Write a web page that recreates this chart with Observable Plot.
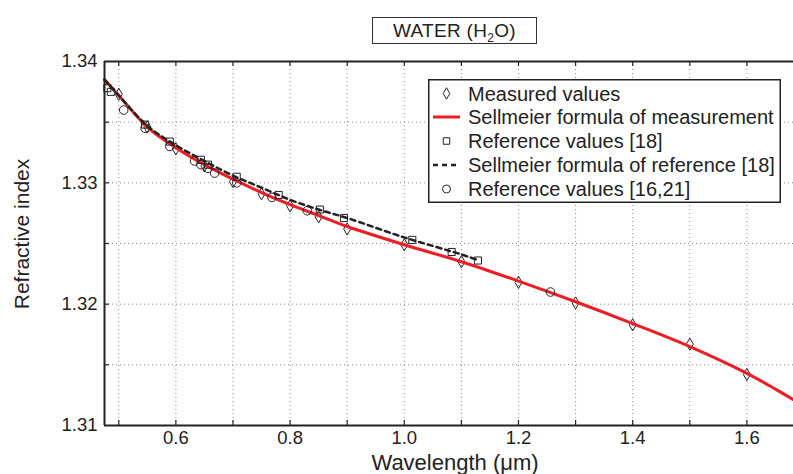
<!DOCTYPE html>
<html><head><meta charset="utf-8">
<script src="https://cdn.jsdelivr.net/npm/d3@7"></script>
<script src="https://cdn.jsdelivr.net/npm/@observablehq/plot@0.6"></script>
<style>
html,body{margin:0;padding:0;background:#fff;overflow:hidden}
#wrap{position:relative;width:793px;height:474px;font-family:"Liberation Sans",Arial,Helvetica,sans-serif;color:#222}
#title{position:absolute;left:372px;top:17px;width:165px;height:27px;border:1px solid #333;box-sizing:border-box;text-align:center;font-size:19px;letter-spacing:0.3px;line-height:25px;background:#fff}
#title .s{font-size:12px;position:relative;top:5px}
#legend{position:absolute;left:428px;top:79px}
</style></head><body>
<div id="wrap"><div id="chart"></div><div id="title">WATER (H<span class="s">2</span>O)</div><div id="legend"></div></div>
<script>
// ---- data ----
const measuredLambda = [0.50,0.55,0.60,0.65,0.70,0.75,0.80,0.85,0.90,1.00,1.10,1.20,1.30,1.40,1.50,1.60];
const measuredIndex  = [1.3373,1.3346,1.3328,1.3314,1.3301,1.3291,1.3281,1.3272,1.3262,1.3249,1.3235,1.3218,1.3201,1.3183,1.3167,1.3142];

const sellLambda = [0.475,0.50,0.55,0.60,0.65,0.70,0.75,0.80,0.85,0.90,1.00,1.10,1.20,1.30,1.40,1.50,1.60,1.65,1.70];
const sellIndex  = [1.3385,1.3372,1.3346,1.3329,1.3315,1.3303,1.3292,1.3282,1.3273,1.3264,1.3249,1.3235,1.3219,1.3202,1.3184,1.3165,1.3143,1.3130,1.3116];

const ref18Lambda = [0.480,0.4861,0.5461,0.5893,0.6438,0.6563,0.7065,0.7800,0.8521,0.8944,1.0140,1.0830,1.1290];
const ref18Index  = [1.3378,1.3375,1.3348,1.3334,1.3319,1.3315,1.3305,1.3290,1.3278,1.3271,1.3253,1.3243,1.3236];

const refSellLambda = [0.475,0.50,0.55,0.60,0.65,0.70,0.75,0.80,0.85,0.90,1.00,1.10,1.125];
const refSellIndex  = [1.3385,1.3372,1.3347,1.3331,1.3318,1.3306,1.3296,1.3286,1.3278,1.3271,1.3255,1.3241,1.3237];

const ref1621Lambda = [0.5086,0.5461,0.5893,0.6328,0.6438,0.6563,0.6678,0.7065,0.7682,0.8300,1.2560];
const ref1621Index  = [1.3360,1.3345,1.3330,1.3318,1.3315,1.3312,1.3308,1.3300,1.3288,1.3277,1.3210];

const xDomain = [0.475, 1.70];
const yDomain = [1.31, 1.34];
const xTickLabels = [0.6, 0.8, 1.0, 1.2, 1.4, 1.6];
const xMinorTicks = [0.5,0.6,0.7,0.8,0.9,1.0,1.1,1.2,1.3,1.4,1.5,1.6];
const yTickLabels = [1.31, 1.32, 1.33, 1.34];
const yMinorTicks = [1.315,1.32,1.325,1.33,1.335];

const xTitle = "Wavelength (\u03bcm)";
const yTitle = "Refractive index";
const legendLabels = ["Measured values","Sellmeier formula of measurement","Reference values [18]","Sellmeier formula of reference [18]","Reference values [16,21]"];

const zip = (xs, ys) => xs.map((x, i) => ({x, y: ys[i]}));
const measured = zip(measuredLambda, measuredIndex);
const sell = zip(sellLambda, sellIndex);
const ref18 = zip(ref18Lambda, ref18Index);
const refSell = zip(refSellLambda, refSellIndex);
const ref1621 = zip(ref1621Lambda, ref1621Index);

const RED = "#ee1c25", INK = "#222";
const font = '"Liberation Sans", Arial, Helvetica, sans-serif';
const grid = {stroke: "#8a8a8a", strokeOpacity: 1, strokeDasharray: "1,3", strokeWidth: 1};
const plotH = 425 - 61, plotW = 793 - 104, tk = 5;

const chart = Plot.plot({
  width: 793, height: 474,
  marginLeft: 104, marginRight: 0, marginTop: 61, marginBottom: 49,
  x: {domain: xDomain, range: [104, 803.5]},
  y: {domain: yDomain, range: [425, 61]},
  style: {fontFamily: font, fontSize: "18px", color: INK, background: "#fff"},
  marks: [
    Plot.gridX({ticks: xMinorTicks, ...grid}),
    Plot.gridY({ticks: yMinorTicks, ...grid}),
    Plot.dot(measured, {x: "x", y: "y", symbol: "diamond", r: 3.7, stroke: INK, strokeWidth: 1, fill: "none"}),
    Plot.line(sell, {x: "x", y: "y", curve: "catmull-rom", stroke: RED, strokeWidth: 3}),
    Plot.dot(ref18, {x: "x", y: "y", symbol: "square", r: 4.0, stroke: INK, strokeWidth: 1, fill: "none"}),
    Plot.line(refSell, {x: "x", y: "y", curve: "catmull-rom", stroke: INK, strokeWidth: 2.5, strokeDasharray: "5,4"}),
    Plot.dot(ref1621, {x: "x", y: "y", symbol: "circle", r: 4.3, stroke: INK, strokeWidth: 1, fill: "none"}),
    // inward ticks
    Plot.ruleX(xMinorTicks, {x: d => d, insetTop: plotH - tk, stroke: INK, strokeWidth: 1.2}),
    Plot.ruleX(xMinorTicks, {x: d => d, insetBottom: plotH - tk, stroke: INK, strokeWidth: 1.2}),
    Plot.ruleY(yMinorTicks, {y: d => d, insetRight: plotW - tk, stroke: INK, strokeWidth: 1.2}),
    // frame lines (left, top, bottom)
    Plot.ruleY(yDomain, {y: d => d, stroke: INK, strokeWidth: 2}),
    Plot.ruleX([xDomain[0]], {x: d => d, stroke: INK, strokeWidth: 2}),
    // labels
    Plot.axisX({ticks: xTickLabels, anchor: "bottom", tickSize: 0, tickPadding: 5, tickFormat: d => d.toFixed(1), fontSize: 18.5, label: null}),
    Plot.axisY({ticks: yTickLabels, anchor: "left", tickSize: 0, tickPadding: 7, tickFormat: d => d.toFixed(2), fontSize: 18.5, label: null}),
    Plot.text([xTitle], {frameAnchor: "bottom", dx: 6, dy: 37, fontSize: 22, fill: INK, lineAnchor: "middle", textAnchor: "middle", letterSpacing: "0.4px"}),
    Plot.text([yTitle], {frameAnchor: "left", dx: -82, dy: -9.5, rotate: -90, fontSize: 21, fill: INK, lineAnchor: "middle", textAnchor: "middle"})
  ]
});
document.getElementById("chart").appendChild(chart);

// legend
const lw = 353, lh = 124;
const lg = d3.select("#legend").append("svg").attr("width", lw).attr("height", lh);
lg.append("rect").attr("x", 0.75).attr("y", 0.75).attr("width", lw - 1.5).attr("height", lh - 1.5)
  .attr("fill", "#fff").attr("stroke", INK).attr("stroke-width", 1.5);
const rows = [14.5, 38, 62, 86, 110];
const sx = 18.5, tx = 40;
const sym = (type, size, y) => lg.append("path").attr("d", d3.symbol(type, size)())
  .attr("transform", `translate(${sx},${y})`).attr("fill", "none").attr("stroke", INK).attr("stroke-width", 1);
sym(d3.symbolDiamond, 38, rows[0]);
lg.append("line").attr("x1", 5).attr("x2", 32).attr("y1", rows[1]).attr("y2", rows[1]).attr("stroke", RED).attr("stroke-width", 3);
sym(d3.symbolSquare, 42, rows[2]);
lg.append("line").attr("x1", 5).attr("x2", 32).attr("y1", rows[3]).attr("y2", rows[3]).attr("stroke", INK).attr("stroke-width", 2.5).attr("stroke-dasharray", "5,4");
sym(d3.symbolCircle, 50, rows[4]);
legendLabels.forEach((t, i) => lg.append("text").attr("x", tx).attr("y", rows[i]).attr("dy", "0.35em")
  .attr("font-family", font).attr("font-size", 20).attr("fill", INK).text(t));
</script></body></html>
